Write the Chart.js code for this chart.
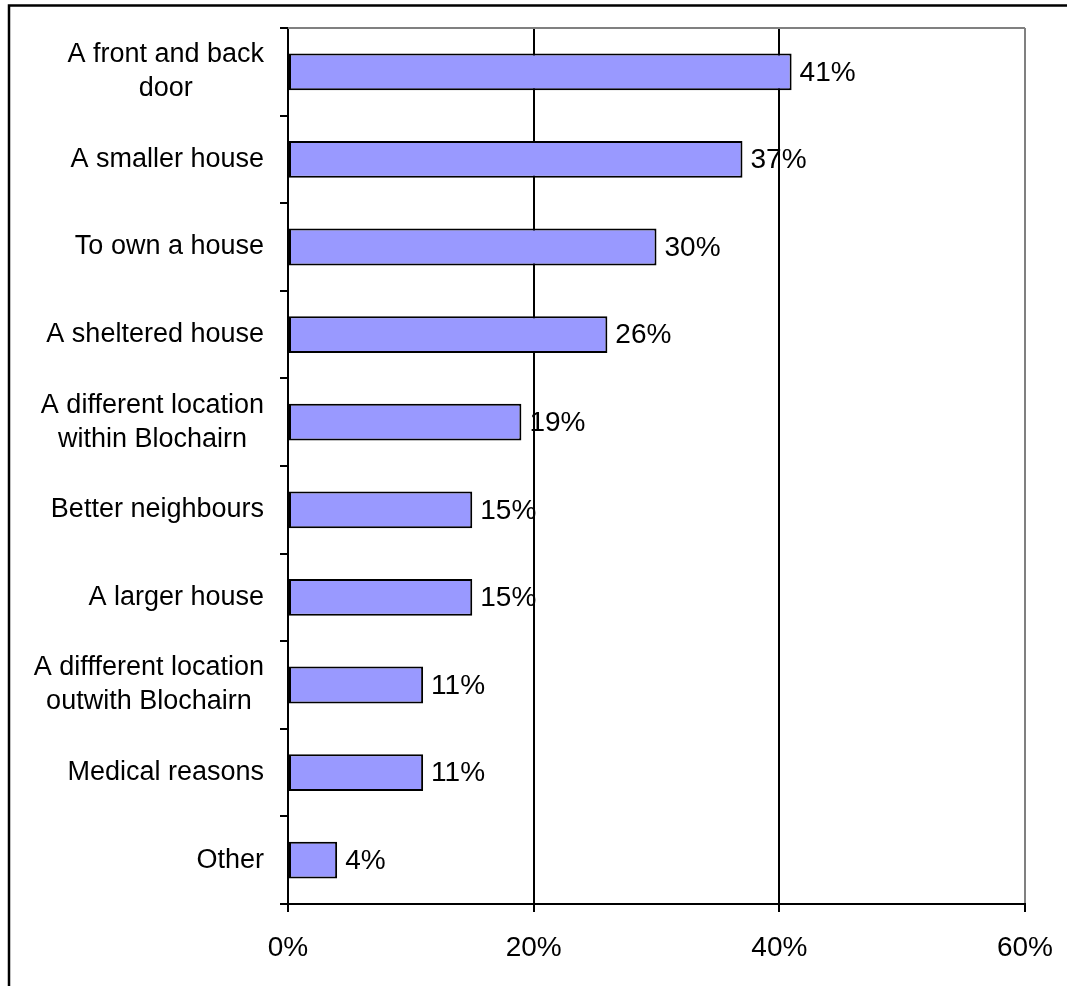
<!DOCTYPE html>
<html>
<head>
<meta charset="utf-8">
<script src="https://cdn.jsdelivr.net/npm/chart.js@4/dist/chart.umd.min.js"></script>
<style>
  html, body { margin: 0; padding: 0; background: #fff; }
  canvas { display: block; }
</style>
</head>
<body>
<canvas id="chart" width="1067" height="986"></canvas>
<script>
// Survey answers: what people would prefer in a new home
const categories = [
  ["A front and back", "door"],
  "A smaller house",
  "To own a house",
  "A sheltered house",
  ["A different location", "within Blochairn"],
  "Better neighbours",
  "A larger house",
  ["A diffferent location", "outwith Blochairn"],
  "Medical reasons",
  "Other"
];
const percentages = [41, 37, 30, 26, 19, 15, 15, 11, 11, 4];
const axisTicks = [0, 20, 40, 60];

const FONT = "'Liberation Sans', Arial, sans-serif";

// Outer frame, plot top border, category labels and value labels
const decorations = {
  id: 'decorations',
  beforeDraw(chart) {
    const c = chart.ctx;
    c.save();
    c.fillStyle = '#fff';
    c.fillRect(0, 0, chart.width, chart.height);
    c.strokeStyle = '#000';
    c.lineWidth = 2.5;
    c.beginPath();
    c.moveTo(9, chart.height);
    c.lineTo(9, 5.5);
    c.lineTo(chart.width, 5.5);
    c.stroke();
    c.restore();
  },
  afterDraw(chart) {
    const c = chart.ctx;
    const area = chart.chartArea;
    const y = chart.scales.y;
    c.save();
    // top border of the plot area
    c.strokeStyle = '#808080';
    c.lineWidth = 2;
    c.beginPath();
    c.moveTo(area.left, area.top);
    c.lineTo(area.right, area.top);
    c.stroke();

    // category labels: block right-aligned, lines centred within it
    c.fillStyle = '#000';
    c.font = '27px ' + FONT;
    c.textBaseline = 'middle';
    c.textAlign = 'center';
    const lineH = 34;
    const rightEdge = area.left - 24;
    categories.forEach((lab, i) => {
      const lines = Array.isArray(lab) ? lab : [lab];
      const w = Math.max(...lines.map(l => c.measureText(l).width));
      const cx = rightEdge - w / 2;
      const cy = y.getPixelForValue(i);
      const start = cy - (lines.length - 1) * lineH / 2;
      lines.forEach((l, k) => c.fillText(l, cx, start + k * lineH));
    });

    // value labels at the end of each bar
    c.font = '28px ' + FONT;
    c.textAlign = 'left';
    const meta = chart.getDatasetMeta(0);
    meta.data.forEach((bar, i) => {
      c.fillText(percentages[i] + '%', bar.x + 8, bar.y + 1);
    });
    c.restore();
  }
};

new Chart(document.getElementById('chart'), {
  type: 'bar',
  data: {
    labels: categories,
    datasets: [{
      data: percentages,
      backgroundColor: '#9999FF',
      borderColor: '#000',
      borderWidth: 2,
      borderSkipped: false,
      categoryPercentage: 1,
      barPercentage: 0.42
    }]
  },
  options: {
    indexAxis: 'y',
    responsive: false,
    animation: false,
    devicePixelRatio: 1,
    layout: { padding: { left: 0, right: 42, top: 28, bottom: 0 } },
    plugins: { legend: { display: false }, tooltip: { enabled: false } },
    scales: {
      x: {
        min: axisTicks[0],
        max: axisTicks[axisTicks.length - 1],
        afterBuildTicks(scale) { scale.ticks = axisTicks.map(v => ({ value: v })); },
        afterFit(scale) {
          scale.height = 82;
          scale.paddingLeft = 0;
          scale.paddingRight = 0;
        },
        ticks: {
          callback: v => v + '%',
          color: '#000',
          font: { family: FONT, size: 28 },
          padding: 19,
          maxRotation: 0
        },
        grid: {
          color: ctx => (ctx.tick && ctx.tick.value === 60) ? '#808080' : '#000',
          lineWidth: 2,
          tickColor: '#000',
          tickLength: 8
        },
        border: { color: '#000', width: 2 }
      },
      y: {
        afterFit(scale) {
          scale.width = 288;
          scale.paddingTop = 0;
          scale.paddingBottom = 0;
        },
        ticks: { display: false },
        grid: {
          drawOnChartArea: false,
          drawTicks: true,
          tickLength: 8,
          offset: true,
          color: '#000',
          lineWidth: 2
        },
        border: { color: '#000', width: 2 }
      }
    }
  },
  plugins: [decorations]
});
</script>
</body>
</html>
